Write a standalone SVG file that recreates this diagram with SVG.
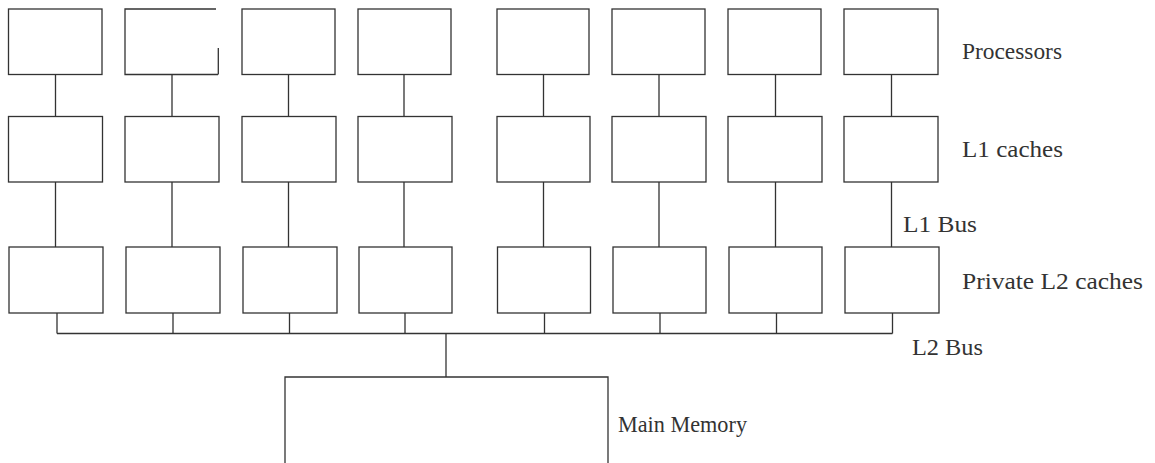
<svg xmlns="http://www.w3.org/2000/svg" width="1155" height="463" viewBox="0 0 1155 463">
<style>
.box{fill:#fff;stroke:#333;stroke-width:1.3}
.ln{fill:none;stroke:#333;stroke-width:1.3}
.lbl{font-family:"Liberation Serif","Times New Roman",serif;font-size:23.5px;fill:#333}
</style>
<rect width="1155" height="463" fill="#fff"/>
<g id="connectors">
<path class="ln" d="M55.5 74.5V116.5M172 74.5V116.5M288.5 74.5V116.5M404 74.5V116.5M543.5 74.5V116.5M659 74.5V116.5M775.5 74.5V116.5M891.5 74.5V116.5"/>
<path class="ln" d="M55.5 182V247M172 182V247M288.5 182V247M404 182V247M543.5 182V247M659 182V247M775.5 182V247M891.5 182V247"/>
<path class="ln" d="M57 313V333.5M173 313V333.5M289.5 313V333.5M405 313V333.5M544.5 313V333.5M660 313V333.5M776.5 313V333.5M892.5 313V333.5"/>
<path class="ln" d="M57 333.5H892.5"/>
<path class="ln" d="M446 333.5V377"/>
</g>
<g id="processors">
<rect id="p1" class="box" x="8.5" y="9" width="93.5" height="65.5"/>
<path id="p2" class="ln" d="M216 9H125V74.5H218M218.3 48V74.5"/>
<rect id="p3" class="box" x="242" y="9" width="93" height="65.5"/>
<rect id="p4" class="box" x="358" y="9" width="93" height="65.5"/>
<rect id="p5" class="box" x="497" y="9" width="92" height="65.5"/>
<rect id="p6" class="box" x="612" y="9" width="93" height="65.5"/>
<rect id="p7" class="box" x="728" y="9" width="93" height="65.5"/>
<rect id="p8" class="box" x="844" y="9" width="94" height="65.5"/>
</g>
<g id="l1caches">
<rect id="c1" class="box" x="8.5" y="116.5" width="94" height="65.5"/>
<rect id="c2" class="box" x="125" y="116.5" width="94" height="65.5"/>
<rect id="c3" class="box" x="242" y="116.5" width="94" height="65.5"/>
<rect id="c4" class="box" x="358" y="116.5" width="94" height="65.5"/>
<rect id="c5" class="box" x="497" y="116.5" width="93" height="65.5"/>
<rect id="c6" class="box" x="612" y="116.5" width="94" height="65.5"/>
<rect id="c7" class="box" x="728" y="116.5" width="94" height="65.5"/>
<rect id="c8" class="box" x="844" y="116.5" width="94" height="65.5"/>
</g>
<g id="l2caches">
<rect id="d1" class="box" x="9" y="247" width="94" height="66"/>
<rect id="d2" class="box" x="126" y="247" width="94" height="66"/>
<rect id="d3" class="box" x="243" y="247" width="94" height="66"/>
<rect id="d4" class="box" x="359" y="247" width="93" height="66"/>
<rect id="d5" class="box" x="497.5" y="247" width="93" height="66"/>
<rect id="d6" class="box" x="613" y="247" width="93" height="66"/>
<rect id="d7" class="box" x="729" y="247" width="93" height="66"/>
<rect id="d8" class="box" x="845" y="247" width="94" height="66"/>
</g>
<g id="memory">
<path class="ln" d="M285 463V377H608V463"/>
</g>
<g id="labels">
<text class="lbl" x="962" y="59" textLength="100" lengthAdjust="spacingAndGlyphs">Processors</text>
<text class="lbl" x="962" y="157" textLength="101" lengthAdjust="spacingAndGlyphs">L1 caches</text>
<text class="lbl" x="903" y="232" textLength="74" lengthAdjust="spacingAndGlyphs">L1 Bus</text>
<text class="lbl" x="962" y="289" textLength="181" lengthAdjust="spacingAndGlyphs">Private L2 caches</text>
<text class="lbl" x="912" y="355" textLength="71" lengthAdjust="spacingAndGlyphs">L2 Bus</text>
<text class="lbl" x="618" y="432" textLength="129" lengthAdjust="spacingAndGlyphs">Main Memory</text>
</g>
</svg>
